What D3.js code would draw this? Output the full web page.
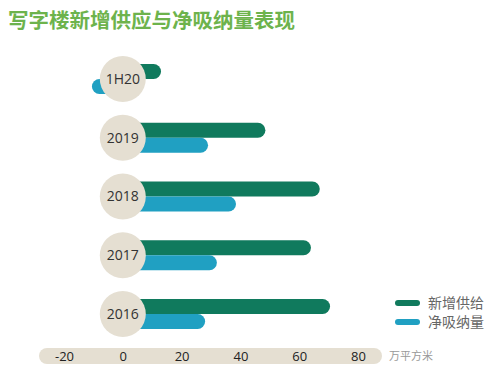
<!DOCTYPE html>
<html>
<head>
<meta charset="utf-8">
<script src="https://cdn.jsdelivr.net/npm/d3@7"></script>
<style>
  body { margin: 0; background: #fff; }
  svg { display: block; }
</style>
</head>
<body>
<div id="chart"></div>
<script>
// data (万平方米)
var categories = ['1H20', '2019', '2018', '2017', '2016'];
var supplyValues = [13, 48.5, 67, 64, 70.5];
var absorptionValues = [-10.5, 29, 38.5, 32, 28];
var tickValues = [-20, 0, 20, 40, 60, 80];
var seriesNames = ['新增供给', '净吸纳量'];

var width = 500, height = 377;
var green = '#107a5d', blue = '#20a0c2', beige = '#e5dfd2';

var svg = d3.select('#chart').append('svg')
    .attr('width', width)
    .attr('height', height);

// title
svg.append('text')
    .attr('x', 8)
    .attr('y', 28)
    .attr('font-family', 'Noto Sans CJK SC')
    .attr('font-weight', 'bold')
    .attr('font-size', 20.5)
    .attr('fill', '#6db34c')
    .text('写字楼新增供应与净吸纳量表现');

// scales
var x = d3.scaleLinear().domain([-20, 80]).range([64, 358]);
var y = d3.scalePoint().domain(categories).range([79, 314]);
var barH = 15;

// axis pill in the background
svg.append('rect')
    .attr('x', 39)
    .attr('y', 348)
    .attr('width', 343)
    .attr('height', 16)
    .attr('rx', 8)
    .attr('fill', beige);

var axis = svg.append('g')
    .attr('transform', 'translate(0,356)')
    .call(d3.axisBottom(x)
        .tickValues(tickValues)
        .tickFormat(function (d) { return String(d); })
        .tickSize(0)
        .tickPadding(0));
axis.select('.domain').remove();
axis.selectAll('text')
    .attr('dy', '0.35em')
    .attr('y', 0)
    .attr('font-family', 'Open Sans, sans-serif')
    .attr('font-size', 13)
    .attr('fill', '#222');

svg.append('text')
    .attr('x', 389)
    .attr('y', 356)
    .attr('dy', '0.35em')
    .attr('font-family', 'Noto Sans CJK SC')
    .attr('font-size', 11)
    .attr('fill', '#999')
    .text('万平方米');

// bars
var rows = categories.map(function (c, i) {
    return {cat: c, supply: supplyValues[i], absorb: absorptionValues[i]};
});

function barX(v) { return Math.min(x(0), x(v)); }
function barW(v) { return Math.abs(x(v) - x(0)); }

svg.selectAll('.bar-supply')
    .data(rows)
    .enter().append('rect')
    .attr('class', 'bar-supply')
    .attr('x', function (d) { return barX(d.supply); })
    .attr('y', function (d) { return y(d.cat) - barH; })
    .attr('width', function (d) { return barW(d.supply); })
    .attr('height', barH)
    .attr('rx', barH / 2)
    .attr('fill', green);

svg.selectAll('.bar-absorb')
    .data(rows)
    .enter().append('rect')
    .attr('class', 'bar-absorb')
    .attr('x', function (d) { return barX(d.absorb); })
    .attr('y', function (d) { return y(d.cat); })
    .attr('width', function (d) { return barW(d.absorb); })
    .attr('height', barH)
    .attr('rx', barH / 2)
    .attr('fill', blue);

// category circles
var bubble = svg.selectAll('.bubble')
    .data(categories)
    .enter().append('g')
    .attr('class', 'bubble')
    .attr('transform', function (d) { return 'translate(' + x(0) + ',' + y(d) + ')'; });

bubble.append('circle')
    .attr('r', 23)
    .attr('fill', beige);

bubble.append('text')
    .attr('text-anchor', 'middle')
    .attr('dy', '0.35em')
    .attr('font-family', 'Open Sans, sans-serif')
    .attr('font-size', 14)
    .attr('fill', '#333')
    .text(function (d) { return d; });

// legend
var legend = svg.selectAll('.legend')
    .data(seriesNames)
    .enter().append('g')
    .attr('class', 'legend')
    .attr('transform', function (d, i) { return 'translate(395,' + (303 + i * 19) + ')'; });

legend.append('line')
    .attr('x1', 3)
    .attr('x2', 22)
    .attr('stroke', function (d, i) { return i === 0 ? green : blue; })
    .attr('stroke-width', 6)
    .attr('stroke-linecap', 'round');

legend.append('text')
    .attr('x', 33)
    .attr('dy', '0.35em')
    .attr('font-family', 'Noto Sans CJK SC')
    .attr('font-size', 14)
    .attr('fill', '#666')
    .text(function (d) { return d; });
</script>
</body>
</html>
